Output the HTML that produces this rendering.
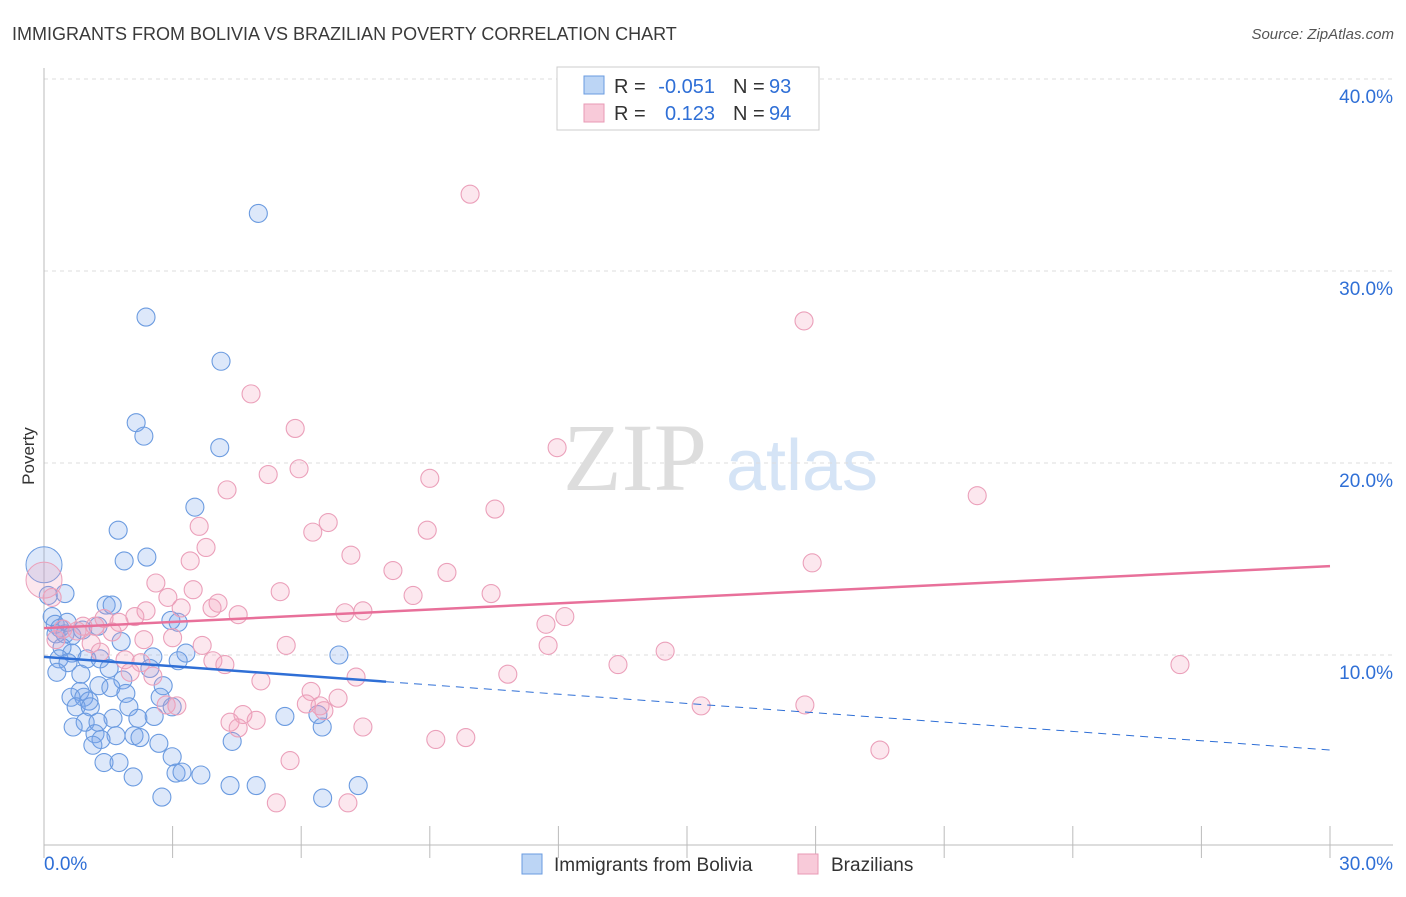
<!DOCTYPE html>
<html><head><meta charset="utf-8"><style>
body{margin:0;background:#fff;font-family:"Liberation Sans",sans-serif}
</style></head><body>
<svg width="1406" height="892" xmlns="http://www.w3.org/2000/svg" font-family="Liberation Sans, sans-serif">
<text x="12" y="40" font-size="18" fill="#3a3a3a">IMMIGRANTS FROM BOLIVIA VS BRAZILIAN POVERTY CORRELATION CHART</text>
<text x="1394" y="39" font-size="15" fill="#555" font-style="italic" text-anchor="end">Source: ZipAtlas.com</text>
<text x="34" y="456" font-size="17" fill="#333" transform="rotate(-90 34 456)" text-anchor="middle">Poverty</text>
<g><text x="635" y="490" font-size="96" fill="#ddd" font-family="Liberation Serif, serif" text-anchor="middle">ZIP</text><text x="802" y="490" font-size="72" fill="#d5e4f6" text-anchor="middle">atlas</text></g>
<g id="grid"></g><g id="axes"></g><g id="pts"></g><g id="trend"></g>
<g font-size="20">
<rect x="557" y="67" width="262" height="63" fill="#fff" stroke="#ccc"/>
<rect x="584" y="76" width="20" height="18" fill="#bcd5f5" stroke="#6a9be0"/>
<rect x="584" y="104" width="20" height="18" fill="#f8cad9" stroke="#e89ab5"/>
<text x="614" y="93" fill="#333">R =</text><text x="715" y="93" fill="#2f6fd6" text-anchor="end">-0.051</text>
<text x="733" y="93" fill="#333">N =</text><text x="769" y="93" fill="#2f6fd6">93</text>
<text x="614" y="120" fill="#333">R =</text><text x="715" y="120" fill="#2f6fd6" text-anchor="end">0.123</text>
<text x="733" y="120" fill="#333">N =</text><text x="769" y="120" fill="#2f6fd6">94</text>
</g>
<g>
<rect x="522" y="854" width="20" height="20" fill="#bcd5f5" stroke="#6a9be0"/>
<text x="554" y="871" font-size="19" fill="#333">Immigrants from Bolivia</text>
<rect x="798" y="854" width="20" height="20" fill="#f8cad9" stroke="#e89ab5"/>
<text x="831" y="871" font-size="19" fill="#333">Brazilians</text>
</g>
</svg>
<script>
const yTicks=[10,20,30,40];
const xTickLabels=["0.0%","30.0%"];
const blueX=[5.0,2.38,4.13,2.15,2.33,4.1,3.52,1.73,2.4,1.87,0.49,0.1,1.45,1.59,2.96,3.13,0.19,0.26,0.37,0.49,0.65,0.28,1.8,1.26,0.42,0.65,0.35,1.0,1.31,0.56,2.54,3.31,3.13,6.88,0.3,0.86,1.52,2.47,1.84,2.78,1.28,0.84,1.56,1.91,0.63,0.93,1.05,2.71,0.75,1.08,1.98,2.99,5.62,6.39,1.61,2.19,2.57,0.96,1.26,0.68,1.19,2.1,2.24,1.68,6.49,1.33,1.14,2.68,4.39,2.99,1.4,1.75,3.08,3.22,3.66,2.08,4.34,4.95,7.33,2.75,6.5,0.54,0.9];
const blueY=[33.0,27.6,25.3,22.1,21.4,20.8,17.7,16.5,15.1,14.9,13.2,13.1,12.6,12.6,11.8,11.7,12.0,11.6,11.4,11.1,11.0,11.1,10.7,11.5,10.4,10.1,9.8,9.8,9.8,9.6,9.9,10.1,9.7,10.0,9.1,9.0,9.3,9.3,8.7,8.4,8.4,8.1,8.3,8.0,7.8,7.8,7.6,7.8,7.3,7.3,7.3,7.3,6.8,6.9,6.7,6.7,6.8,6.5,6.5,6.25,5.9,5.8,5.7,5.8,6.25,5.6,5.3,5.4,5.5,4.7,4.4,4.4,3.85,3.9,3.75,3.65,3.2,3.2,3.2,2.6,2.55,11.7,11.3];
const pinkX=[9.94,17.73,4.83,5.86,11.97,5.95,5.23,9.0,4.27,21.77,10.52,6.63,3.62,6.27,8.94,3.78,7.16,3.41,17.92,8.14,9.4,2.61,3.48,5.51,10.43,8.61,2.89,0.19,4.06,3.2,3.92,2.38,4.53,7.02,7.44,12.15,2.12,1.4,1.75,11.71,0.91,1.19,0.44,0.77,1.59,3.0,2.33,0.28,1.1,3.69,5.65,11.76,1.31,14.49,1.89,2.26,3.94,4.22,13.39,26.5,2.01,2.54,7.28,10.82,5.06,6.23,6.86,6.12,6.44,6.53,2.85,3.1,15.33,17.75,4.64,4.34,4.95,4.53,7.44,9.14,9.84,19.5,5.74,5.42,7.09];
const pinkY=[34.0,27.4,23.6,21.8,20.8,19.7,19.4,19.2,18.6,18.3,17.6,16.9,16.7,16.4,16.5,15.6,15.2,14.9,14.8,14.4,14.3,13.75,13.4,13.3,13.2,13.1,13.0,13.0,12.7,12.45,12.45,12.3,12.1,12.2,12.3,12.0,12.0,11.9,11.7,11.6,11.5,11.5,11.35,11.25,11.2,10.9,10.8,10.8,10.6,10.5,10.5,10.5,10.15,10.2,9.75,9.6,9.7,9.5,9.5,9.5,9.1,8.9,8.85,9.0,8.65,8.1,7.75,7.45,7.35,7.1,7.4,7.35,7.35,7.4,6.9,6.5,6.6,6.2,6.25,5.6,5.7,5.05,4.5,2.3,2.3];
const blueTrend=[9.9,5.05], blueSolidEnd=7.98, pinkTrend=[11.4,14.63];
const sx=v=>44+v/30*1286, sy=v=>847-v*19.2;
const NS="http://www.w3.org/2000/svg";
function mk(t,a,p){const e=document.createElementNS(NS,t);for(const k in a)e.setAttribute(k,a[k]);document.getElementById(p).appendChild(e);return e;}
yTicks.forEach(t=>{const l=mk('line',{x1:44,x2:1393,y1:sy(t),y2:sy(t),stroke:'#ddd','stroke-dasharray':'4,4'},'grid');


const tx=mk('text',{x:1393,y:sy(t)+24,'font-size':19,fill:'#2f6fd6','text-anchor':'end'},'grid');tx.textContent=t.toFixed(1)+'%';

});
mk('line',{x1:44,x2:44,y1:68,y2:845,stroke:'#bbb'},'axes');
mk('line',{x1:44,x2:1393,y1:845,y2:845,stroke:'#bbb'},'axes');
for(let i=0;i<=10;i++){const x=sx(i*3);mk('line',{x1:x,x2:x,y1:826,y2:858,stroke:'#bbb'},'axes');}
[[0,'start'],[30,'end']].forEach((d,i)=>{const x=i?1393:44;const t=mk('text',{x:x,y:870,'font-size':19,fill:'#2f6fd6','text-anchor':d[1]},'axes');t.textContent=xTickLabels[i];

});
function pts(X,Y,f,s,big){X.forEach((x,i)=>{const c=mk('circle',{cx:sx(x),cy:sy(Y[i]),r:9,fill:f,stroke:s,'stroke-width':1.1},'pts');

});
const b=mk('circle',{cx:sx(0),cy:sy(big),r:18,fill:f,stroke:s},'pts');

}
pts(blueX,blueY,'rgba(120,165,235,0.25)','#6b9be0',14.7);
pts(pinkX,pinkY,'rgba(242,160,188,0.25)','#eba0ba',13.9);
const by=x=>blueTrend[0]+(blueTrend[1]-blueTrend[0])*x/30;
let l=mk('line',{x1:sx(0),y1:sy(by(0)),x2:sx(blueSolidEnd),y2:sy(by(blueSolidEnd)),stroke:'#2f6fd6','stroke-width':2.5},'trend');


l=mk('line',{x1:sx(blueSolidEnd),y1:sy(by(blueSolidEnd)),x2:sx(30),y2:sy(by(30)),stroke:'#2f6fd6','stroke-width':1,'stroke-dasharray':'8,6'},'trend');


l=mk('line',{x1:sx(0),y1:sy(pinkTrend[0]),x2:sx(30),y2:sy(pinkTrend[1]),stroke:'#e8709a','stroke-width':2.5},'trend');


</script>
</body></html>
